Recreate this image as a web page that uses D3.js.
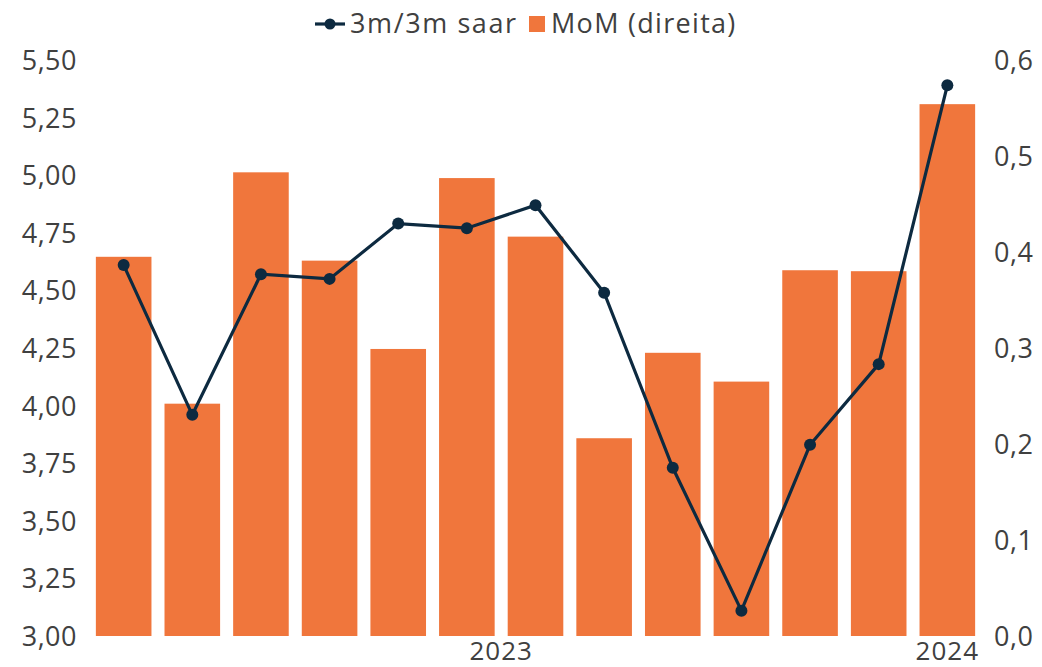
<!DOCTYPE html>
<html>
<head>
<meta charset="utf-8">
<script src="https://cdn.jsdelivr.net/npm/d3@7"></script>
<style>
  body { margin: 0; background: #fff; }
  text { font-family: "Open Sans", sans-serif; fill: #404040; }
</style>
</head>
<body>
<div id="chart"></div>
<script>
// months jan/23 .. jan/24
var months = ["jan/23","fev/23","mar/23","abr/23","mai/23","jun/23","jul/23","ago/23","set/23","out/23","nov/23","dez/23","jan/24"];
var years = ["2023","2023","2023","2023","2023","2023","2023","2023","2023","2023","2023","2023","2024"];
var mom = [0.395, 0.242, 0.483, 0.391, 0.299, 0.477, 0.416, 0.206, 0.295, 0.265, 0.381, 0.380, 0.554];
var saar = [4.61, 3.96, 4.57, 4.55, 4.79, 4.77, 4.87, 4.49, 3.73, 3.11, 3.83, 4.18, 5.39];
var leftTicks = [3.00, 3.25, 3.50, 3.75, 4.00, 4.25, 4.50, 4.75, 5.00, 5.25, 5.50];
var rightTicks = [0, 0.1, 0.2, 0.3, 0.4, 0.5, 0.6];

var W = 1042, H = 667;
var svg = d3.select("#chart").append("svg")
  .attr("width", W)
  .attr("height", H);

var x = d3.scaleBand().domain(months).range([89, 982]).paddingInner(0.19).paddingOuter(0.1);
var yL = d3.scaleLinear().domain([3, 5.5]).range([636, 60]);
var yR = d3.scaleLinear().domain([0, 0.6]).range([636, 60]);

var comma = function(n, d){ return n.toFixed(d).replace(".", ","); };

// bars
svg.append("g").selectAll("rect")
  .data(mom)
  .enter().append("rect")
  .attr("x", function(d, i){ return x(months[i]); })
  .attr("y", function(d){ return yR(d); })
  .attr("width", x.bandwidth())
  .attr("height", function(d){ return yR(0) - yR(d); })
  .attr("fill", "#f0763c");

// line
var line = d3.line()
  .x(function(d, i){ return x(months[i]) + x.bandwidth()/2; })
  .y(function(d){ return yL(d); });

svg.append("path")
  .datum(saar)
  .attr("d", line)
  .attr("fill", "none")
  .attr("stroke", "#0d2a40")
  .attr("stroke-width", 3.2);

svg.append("g").selectAll("circle")
  .data(saar)
  .enter().append("circle")
  .attr("cx", function(d, i){ return x(months[i]) + x.bandwidth()/2; })
  .attr("cy", function(d){ return yL(d); })
  .attr("r", 6)
  .attr("fill", "#0d2a40");

// left axis
var axL = svg.append("g")
  .attr("transform", "translate(77,0)")
  .call(d3.axisLeft(yL).tickValues(leftTicks).tickSize(0).tickPadding(0)
    .tickFormat(function(d){ return comma(d, 2); }));
axL.select(".domain").remove();
axL.selectAll("text").style("font-size", "27px").attr("dy", "0.35em").style("letter-spacing", "0.5px");

// right axis
var axR = svg.append("g")
  .attr("transform", "translate(994,0)")
  .call(d3.axisRight(yR).tickValues(rightTicks).tickSize(0).tickPadding(0)
    .tickFormat(function(d){ return comma(d, 1); }));
axR.select(".domain").remove();
axR.selectAll("text").style("font-size", "27px").attr("dy", "0.35em").style("letter-spacing", "0.5px");

// year group labels
var groups = d3.groups(months.map(function(m, i){ return {m: m, y: years[i]}; }), function(d){ return d.y; });
svg.append("g").selectAll("text")
  .data(groups)
  .enter().append("text")
  .attr("x", function(g){
    var first = g[1][0].m, last = g[1][g[1].length - 1].m;
    return (x(first) + x(last) + x.bandwidth()) / 2;
  })
  .attr("y", 660)
  .attr("text-anchor", "middle")
  .style("font-size", "26px")
  .style("letter-spacing", "1px")
  .text(function(g){ return g[0]; });

// legend
var lg = svg.append("g");
lg.append("line").attr("x1", 315).attr("x2", 345).attr("y1", 24).attr("y2", 24)
  .attr("stroke", "#0d2a40").attr("stroke-width", 3.2);
lg.append("circle").attr("cx", 330).attr("cy", 24).attr("r", 5.5).attr("fill", "#0d2a40");
lg.append("text").attr("x", 350).attr("y", 33).style("font-size", "27px").style("letter-spacing", "1.6px").text("3m/3m saar");
lg.append("rect").attr("x", 529).attr("y", 16).attr("width", 16).attr("height", 16).attr("fill", "#f0763c");
lg.append("text").attr("x", 551).attr("y", 33).style("font-size", "27px").style("letter-spacing", "1.3px").text("MoM (direita)");
</script>
</body>
</html>
